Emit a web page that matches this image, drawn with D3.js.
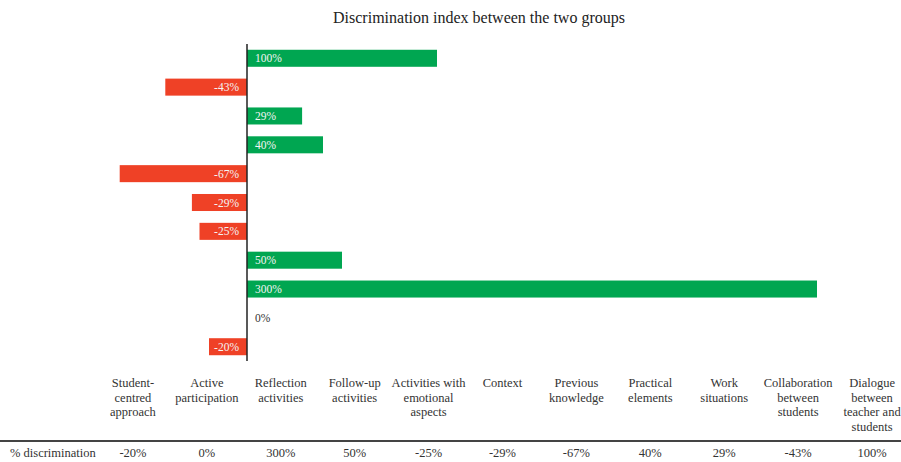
<!DOCTYPE html>
<html>
<head>
<meta charset="utf-8">
<script src="https://cdn.jsdelivr.net/npm/d3@7"></script>
<style>
  body { margin: 0; background: #fff; }
  svg { font-family: "Liberation Serif", "DejaVu Serif", serif; }
</style>
</head>
<body>
<svg id="chart" width="901" height="462"></svg>
<script>
// categories in table order (left to right); the bars run the other way (top = last)
const categories = [
  ['Student-', 'centred', 'approach'],
  ['Active', 'participation'],
  ['Reflection', 'activities'],
  ['Follow-up', 'activities'],
  ['Activities with', 'emotional', 'aspects'],
  ['Context'],
  ['Previous', 'knowledge'],
  ['Practical', 'elements'],
  ['Work', 'situations'],
  ['Collaboration', 'between', 'students'],
  ['Dialogue', 'between', 'teacher and', 'students']
];
const values = [-20, 0, 300, 50, -25, -29, -67, 40, 29, -43, 100];
const rowLabel = '% discrimination';
const title = 'Discrimination index between the two groups';

const svg = d3.select('#chart');
const ids = categories.map((c, i) => i);

// bar area
const x = d3.scaleLinear().domain([0, 300]).range([247, 817]);
const y = d3.scaleBand()
  .domain(ids.slice().reverse())
  .range([44, 361])
  .paddingInner(0.41)
  .paddingOuter(0.2);

// table columns
const col = d3.scaleBand().domain(ids).range([96, 909]);

svg.append('text')
  .attr('x', 479).attr('y', 23)
  .attr('text-anchor', 'middle')
  .attr('font-size', 16)
  .attr('fill', '#222')
  .text(title);

const bars = svg.append('g');
bars.selectAll('rect')
  .data(ids.filter(i => values[i] !== 0))
  .join('rect')
  .attr('x', i => Math.min(x(0), x(values[i])))
  .attr('y', i => y(i))
  .attr('width', i => Math.abs(x(values[i]) - x(0)))
  .attr('height', y.bandwidth())
  .attr('fill', i => values[i] > 0 ? '#00a651' : '#ef4126');

bars.selectAll('text')
  .data(ids)
  .join('text')
  .attr('x', i => values[i] < 0 ? x(0) - 8 : x(0) + 8)
  .attr('y', i => y(i) + y.bandwidth() / 2)
  .attr('dy', '0.35em')
  .attr('text-anchor', i => values[i] < 0 ? 'end' : 'start')
  .attr('font-size', 11.5)
  .attr('fill', i => values[i] === 0 ? '#333' : '#f4f4f4')
  .text(i => values[i] + '%');

// zero axis
svg.append('line')
  .attr('x1', x(0)).attr('x2', x(0))
  .attr('y1', 44).attr('y2', 361)
  .attr('stroke', '#222').attr('stroke-width', 1.5);

// table header
const head = svg.append('g');
head.selectAll('text')
  .data(ids)
  .join('text')
  .attr('x', i => col(i) + col.bandwidth() / 2)
  .attr('y', 387)
  .attr('text-anchor', 'middle')
  .attr('font-size', 12.5)
  .attr('fill', '#333')
  .selectAll('tspan')
  .data(i => categories[i])
  .join('tspan')
  .attr('x', function () { return d3.select(this.parentNode).attr('x'); })
  .attr('dy', (d, k) => k === 0 ? 0 : 14.7)
  .text(d => d);

svg.append('line')
  .attr('x1', 0).attr('x2', 901)
  .attr('y1', 441).attr('y2', 441)
  .attr('stroke', '#444').attr('stroke-width', 2);

svg.append('text')
  .attr('x', 10).attr('y', 457)
  .attr('font-size', 12.5)
  .attr('fill', '#333')
  .text(rowLabel);

svg.append('g').selectAll('text')
  .data(ids)
  .join('text')
  .attr('x', i => col(i) + col.bandwidth() / 2)
  .attr('y', 457)
  .attr('text-anchor', 'middle')
  .attr('font-size', 12.5)
  .attr('fill', '#333')
  .text(i => values[i] + '%');
</script>
</body>
</html>
